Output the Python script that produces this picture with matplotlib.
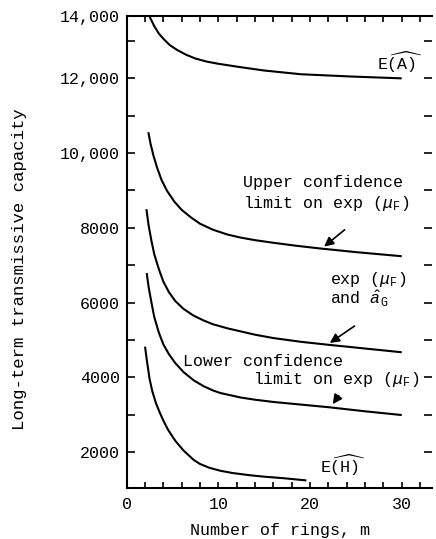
import numpy as np
import matplotlib.pyplot as plt
from matplotlib.ticker import MultipleLocator

plt.rcParams['font.family'] = 'Liberation Mono'
plt.rcParams['mathtext.fontset'] = 'custom'
plt.rcParams['mathtext.rm'] = 'Liberation Mono'
plt.rcParams['mathtext.it'] = 'Liberation Mono:italic'

# estimated capacities vs number of rings
m_EA = [2.5, 3.0, 3.5, 4.0, 4.7, 5.5, 6.5, 7.5, 8.7, 10.0, 12.4, 15.0, 19.0, 24.4, 30.0]
cap_EA = [13650, 13400, 13200, 13060, 12890, 12760, 12630, 12530, 12450, 12390,
          12300, 12210, 12110, 12050, 12000]

m_upper = [2.36, 2.6, 2.9, 3.3, 3.8, 4.4, 5.2, 6.0, 7.0, 8.0, 9.4, 11.0, 12.4,
           14.0, 16.0, 18.5, 21.0, 25.0, 30.0]
cap_upper = [10560, 10250, 9950, 9620, 9280, 8990, 8700, 8480, 8280, 8110, 7950,
             7820, 7740, 7670, 7600, 7520, 7450, 7350, 7240]

m_mid = [2.15, 2.4, 2.7, 3.0, 3.5, 4.0, 4.6, 5.3, 6.2, 7.3, 8.4, 9.4, 11.0, 12.4,
         14.0, 16.0, 19.0, 22.0, 26.0, 30.0]
cap_mid = [8500, 8050, 7650, 7300, 6900, 6560, 6280, 6040, 5830, 5650, 5520, 5420,
           5310, 5230, 5140, 5050, 4950, 4870, 4770, 4670]

m_lower = [2.18, 2.4, 2.7, 3.0, 3.5, 4.0, 4.6, 5.3, 6.2, 7.3, 8.4, 9.4, 10.2, 11.5,
           12.4, 14.0, 16.0, 19.0, 22.0, 26.0, 30.0]
cap_lower = [6790, 6400, 6000, 5620, 5200, 4880, 4620, 4380, 4140, 3920, 3760, 3650,
             3580, 3510, 3460, 3400, 3340, 3270, 3200, 3090, 2990]

m_EH = [2.0, 2.2, 2.5, 2.8, 3.2, 3.6, 4.0, 4.5, 5.3, 6.2, 7.3, 8.0, 9.0, 10.2, 11.5,
        13.4, 15.0, 17.1, 19.6]
cap_EH = [4820, 4450, 3950, 3620, 3300, 3060, 2840, 2600, 2300, 2040, 1790, 1680,
          1580, 1500, 1440, 1380, 1340, 1300, 1240]

ytick_vals = [2000, 4000, 6000, 8000, 10000, 12000, 13670]
ytick_labels = ['2000', '4000', '6000', '8000', '10,000', '12,000', '14,000']

fig = plt.figure(figsize=(4.36, 5.39), dpi=100)
ax = fig.add_axes([0.2906, 0.0941, 0.7002, 0.8763])

for xs, ys in [(m_EA, cap_EA), (m_upper, cap_upper), (m_mid, cap_mid),
               (m_lower, cap_lower), (m_EH, cap_EH)]:
    ax.plot(xs, ys, color='black', lw=1.5, solid_capstyle='butt',
            solid_joinstyle='round')

ax.set_xlim(0, 33.3)
ax.set_ylim(1030, 13670)

ax.set_xticks([0, 10, 20, 30])
ax.xaxis.set_minor_locator(MultipleLocator(2))
ax.set_yticks(ytick_vals)
ax.set_yticklabels(ytick_labels)
ax.yaxis.set_minor_locator(MultipleLocator(1000))

ax.tick_params(axis='x', which='both', direction='in', top=True, length=4,
               width=1.2, labelsize=12, pad=6)
ax.tick_params(axis='y', which='both', direction='in', right=True, length=6,
               width=1.2, labelsize=12, pad=5)

for side in ['left', 'bottom', 'top']:
    ax.spines[side].set_linewidth(1.5)
ax.spines['right'].set_visible(False)

# curve labels
fs = 12
ax.text(27.3, 12430, r'E$\widehat{\mathrm{(A)}}$', fontsize=fs, va='center')
ax.text(12.7, 9205, 'Upper confidence', fontsize=fs, va='center')
ax.text(12.7, 8640, r'limit on exp ($\mu_{\mathrm{F}}$)', fontsize=fs, va='center')
ax.text(22.2, 6624, r'exp ($\mu_{\mathrm{F}}$)', fontsize=fs, va='center')
ax.text(22.2, 6086, r'and $\hat{a}_{\mathrm{G}}$', fontsize=fs, va='center')
ax.text(6.15, 4420, 'Lower confidence', fontsize=fs, va='center')
ax.text(13.8, 3936, r'limit on exp ($\mu_{\mathrm{F}}$)', fontsize=fs, va='center')
ax.text(21.1, 1651, r'E$\widehat{\mathrm{(H)}}$', fontsize=fs, va='center')

arrow = dict(arrowstyle='-|>', color='black', lw=1.2, mutation_scale=14)
ax.annotate('', xy=(21.3, 7450), xytext=(24.0, 7995), arrowprops=arrow)
ax.annotate('', xy=(21.9, 4877), xytext=(25.1, 5414), arrowprops=arrow)
ax.annotate('', xy=(22.3, 3220), xytext=(23.3, 3570), arrowprops=arrow)

fig.text(20 / 436, 1 - 269 / 539, 'Long-term transmissive capacity',
         rotation=90, ha='center', va='center', fontsize=12.5)
fig.text(280 / 436, 1 - 530 / 539, 'Number of rings, m',
         ha='center', va='center', fontsize=12)

fig.savefig('out.png', dpi=100)
